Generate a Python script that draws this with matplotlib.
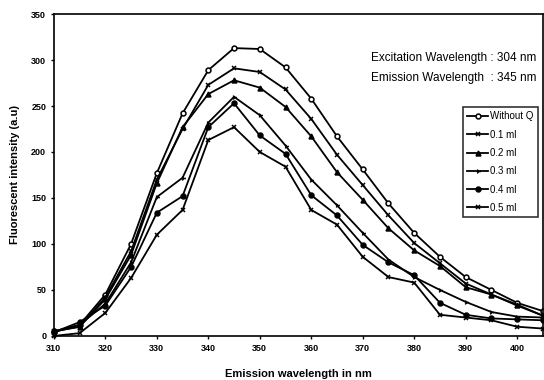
import matplotlib.pyplot as plt

plt.rcParams['font.family'] = ['Liberation Sans', 'DejaVu Sans']

# data
wavelength = [310, 315, 320, 325, 330, 335, 340, 345, 350, 355,
              360, 365, 370, 375, 380, 385, 390, 395, 400, 405]
without_q = [5, 12, 45, 100, 177, 242, 289, 313, 312, 292,
             258, 217, 181, 144, 112, 86, 64, 50, 36, 27]
ml_01 = [5, 10, 42, 92, 170, 225, 273, 291, 287, 268,
         236, 197, 164, 131, 101, 79, 57, 45, 33, 22]
ml_02 = [5, 10, 40, 88, 166, 227, 263, 278, 270, 249,
         217, 178, 148, 117, 93, 76, 53, 45, 34, 22]
ml_03 = [4, 12, 35, 80, 151, 172, 232, 260, 240, 207,
         170, 142, 112, 83, 64, 50, 37, 26, 21, 20]
ml_04 = [4, 15, 33, 75, 134, 152, 227, 253, 218, 198,
         153, 131, 99, 80, 66, 36, 23, 19, 18, 17]
ml_05 = [0, 3, 25, 63, 110, 137, 213, 227, 200, 184,
         137, 121, 86, 64, 58, 23, 20, 17, 10, 8]

labels = ['Without Q', '0.1 ml', '0.2 ml', '0.3 ml', '0.4 ml', '0.5 ml']
series = [without_q, ml_01, ml_02, ml_03, ml_04, ml_05]
markers = ['o', 'x', '^', '4', 'o', 'x']
fills = ['white', 'black', 'black', 'black', 'black', 'black']

fig = plt.figure(figsize=(5.44, 3.80), dpi=100)
ax = fig.add_axes([0.099, 0.116, 0.899, 0.847])

for y, lab, m, fc in zip(series, labels, markers, fills):
    ax.plot(wavelength, y, color='black', linewidth=1.3, marker=m,
            markersize=3.5, markerfacecolor=fc, markeredgecolor='black',
            markeredgewidth=1.1, label=lab, clip_on=False)

ax.set_xlim(310, 405)
ax.set_ylim(0, 350)
ax.set_xticks(range(310, 401, 10))
ax.set_yticks(range(0, 351, 50))
ax.tick_params(labelsize=6.5, length=2, width=1)
for t in ax.get_xticklabels() + ax.get_yticklabels():
    t.set_fontweight('bold')
for s in ax.spines.values():
    s.set_linewidth(1.2)

ax.set_xlabel('Emission wavelength in nm', fontsize=8, fontweight='bold',
              labelpad=12)
ax.set_ylabel('Fluorescent intensity (a.u)', fontsize=8, fontweight='bold',
              labelpad=8)

ax.text(0.649, 0.863, 'Excitation Wavelength : 304 nm', transform=ax.transAxes,
        fontsize=8.5, va='center')
ax.text(0.649, 0.801, 'Emission Wavelength  : 345 nm', transform=ax.transAxes,
        fontsize=8.5, va='center')

leg = ax.legend(loc='upper right', bbox_to_anchor=(0.99, 0.711),
                fontsize=7, frameon=True, fancybox=False, edgecolor='black',
                handlelength=2.2, handletextpad=0.2, borderpad=0.45,
                labelspacing=0.85, borderaxespad=0)
leg.get_frame().set_linewidth(1.2)

plt.savefig('out.png', dpi=100)
